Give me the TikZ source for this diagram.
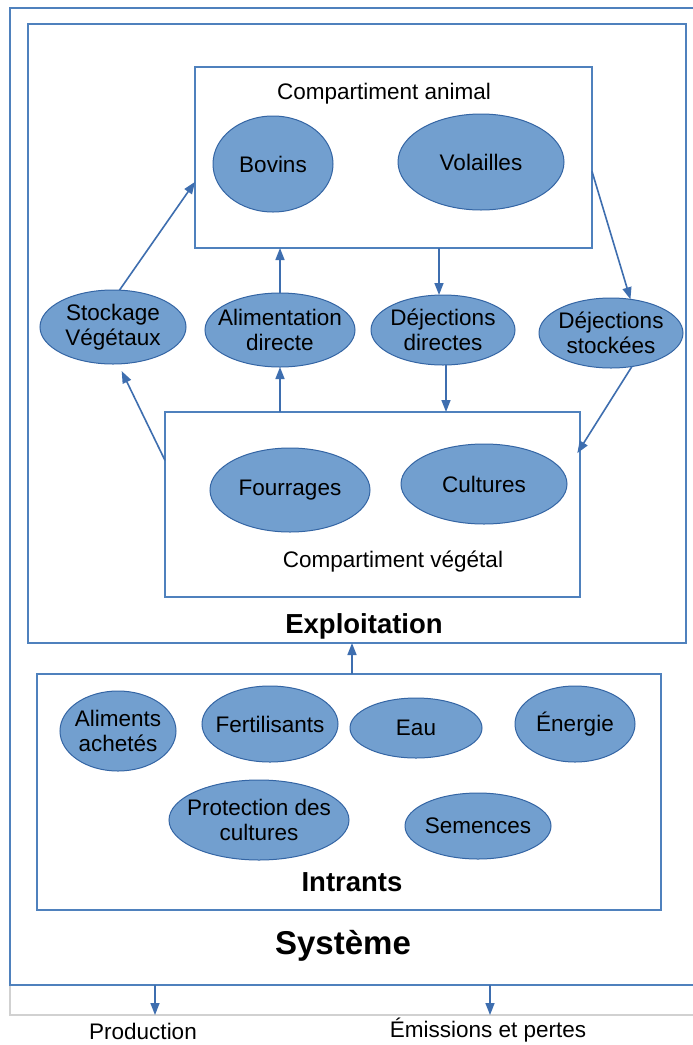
\documentclass[tikz,border=0pt]{standalone}
\usepackage{fontspec}
\setmainfont{Liberation Sans}
\usetikzlibrary{shapes.geometric, positioning, calc, arrows.meta}
\definecolor{boxline}{RGB}{79,129,189}
\definecolor{ovalfill}{RGB}{114,159,207}
\definecolor{ovalline}{RGB}{52,101,164}
\definecolor{flowline}{RGB}{62,110,175}

\begin{document}
\begin{tikzpicture}[x=1pt,y=-1pt,
    every node/.style={inner sep=0,outer sep=0},
    every label/.style={font=\fontsize{22.5}{25}\selectfont,align=center},
    box/.style={rectangle,draw=boxline,line width=2pt},
    oval/.style={ellipse,draw=ovalline,fill=ovalfill,line width=1pt},
    txt/.style={font=\fontsize{22.5}{25}\selectfont,align=center},
    flow/.style={draw=flowline,line width=1.6pt,-{Triangle[length=12pt,width=9pt]}}]
      \clip (0,0) rectangle (693,1045);
      \fill[white] (0,0) rectangle (693,1045);

      % bande du bas
      \draw[black!18,line width=1.5pt] (10,985) rectangle (720,1015);

      \node(sys)[box,minimum width=710pt,minimum height=977pt] at (365,496.5){};
      \node(expl)[box,minimum width=658pt,minimum height=619pt] at (357,333.5){};
      \node(animal)[box,minimum width=397pt,minimum height=181pt] at (393.5,157.5){};
      \node(plant)[box,minimum width=415pt,minimum height=185pt] at (372.5,504.5){};
      \node(intr)[box,minimum width=624pt,minimum height=236pt] at (349,792){};

      \node(animaltxt)[txt] at (384,94){Compartiment animal};
      \node(planttxt)[txt] at (393,562){Compartiment v\'eg\'etal};
      \node(expltxt)[font=\fontsize{27.5}{30}\selectfont\bfseries] at (364,626){Exploitation};
      \node(intrtxt)[font=\fontsize{27.5}{30}\selectfont\bfseries] at (352,882){Intrants};
      \node(systxt)[font=\fontsize{33}{36}\selectfont\bfseries] at (343,946){Syst\`eme};

      \node(bov)[oval,minimum width=120pt,minimum height=96pt,label=center:Bovins] at (273,164){};
      \node(vol)[oval,minimum width=166pt,minimum height=96pt,label=center:Volailles] at (481,162){};

      \node(stock)[oval,minimum width=146pt,minimum height=74pt,label={center:Stockage\\V\'eg\'etaux}] at (113,327){};
      \node(ali)[oval,minimum width=150pt,minimum height=74pt,label={center:Alimentation\\directe}] at (280,330){};
      \node(dejd)[oval,minimum width=144pt,minimum height=70pt,label={center:D\'ejections\\directes}] at (443,330){};
      \node(dejs)[oval,minimum width=144pt,minimum height=70pt,label={center:D\'ejections\\stock\'ees}] at (611,333){};

      \node(four)[oval,minimum width=160pt,minimum height=84pt,label=center:Fourrages] at (290,490){};
      \node(cult)[oval,minimum width=166pt,minimum height=80pt,label=center:Cultures] at (484,484){};

      \node(alim)[oval,minimum width=116pt,minimum height=80pt,label={center:Aliments\\achet\'es}] at (118,731){};
      \node(fert)[oval,minimum width=136pt,minimum height=76pt,label=center:Fertilisants] at (270,724){};
      \node(eau)[oval,minimum width=132pt,minimum height=60pt,label=center:Eau] at (416,728){};
      \node(ener)[oval,minimum width=120pt,minimum height=76pt,label=center:\'Energie] at (575,724){};
      \node(prot)[oval,minimum width=180pt,minimum height=80pt,label={center:Protection des\\cultures}] at (259,820){};
      \node(sem)[oval,minimum width=146pt,minimum height=66pt,label=center:Semences] at (478,826){};

      \coordinate(pout) at (155,1015);
      \coordinate(eout) at (490,1015);
      \node(prod)[txt] at (143,1031){Production};
      \node(emis)[txt] at (488,1030){\'Emissions et pertes};

      \draw[flow](stock.80)--(animal.187);
      \draw[flow](ali.north)--(ali.north |- animal.south);
      \draw[flow](ali.south |- plant.north)--(ali.south);
      \draw[flow]([xshift=-4pt]dejd.north |- animal.south)--([xshift=-4pt]dejd.north);
      \draw[flow]([xshift=3pt]dejd.south)--([xshift=3pt]dejd.south |- plant.north);
      \draw[flow](animal.-4)--(dejs.60);
      \draw[flow,shorten >=-5pt](dejs.-58)--(plant.15);
      \draw[flow,shorten >=8pt](plant.168)--(stock.-82);
      \draw[flow]([xshift=3pt]intr.north)--([xshift=3pt]intr.north |- expl.south);
      \draw[flow](sys.south -| pout)--(pout);
      \draw[flow](sys.south -| eout)--(eout);
    \end{tikzpicture}
\end{document}
